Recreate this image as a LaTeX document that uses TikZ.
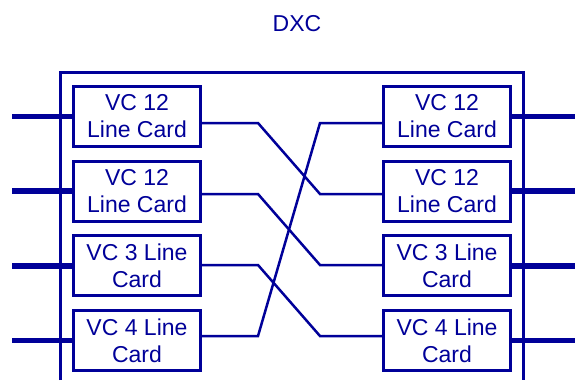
\documentclass[tikz,border=0pt]{standalone}
\usepackage{fontspec}
\setmainfont{Liberation Sans}
\usepackage{xcolor}
\usetikzlibrary{positioning}
\definecolor{dxcblue}{RGB}{0,0,153}

\begin{document}
\begin{tikzpicture}[
  x=1pt, y=-1pt,
  card/.style={draw=dxcblue, line width=3pt, fill=white, align=center, minimum width=127pt, minimum height=60pt, inner sep=0pt, text=dxcblue, font=\fontsize{23}{27}\selectfont},
  stub/.style={draw=dxcblue, line width=5.5pt},
  wire/.style={draw=dxcblue, line width=2.5pt}
]
\useasboundingbox (0,0) rectangle (575,380);
\node[text=dxcblue, font=\fontsize{23}{27}\selectfont] (title) at (297,24) {DXC};
\draw[dxcblue, line width=3pt] (60.5,380) -- (60.5,72) -- (523.5,72) -- (523.5,380);

% line cards
\node[card] (l1) at (137,116.5) {VC 12\\Line Card};
\node[card, below=11.7pt of l1] (l2) {VC 12\\Line Card};
\node[card, below=11.7pt of l2] (l3) {VC 3 Line\\Card};
\node[card, below=11.7pt of l3] (l4) {VC 4 Line\\Card};
\node[card, right=180pt of l1] (r1) {VC 12\\Line Card};
\node[card, right=180pt of l2] (r2) {VC 12\\Line Card};
\node[card, right=180pt of l3] (r3) {VC 3 Line\\Card};
\node[card, right=180pt of l4] (r4) {VC 4 Line\\Card};

% external lines
\coordinate (lx) at (12,0);
\coordinate (rx) at (575,0);
\foreach \i in {1,...,4} {
  \draw[stub] (lx |- l\i) -- (l\i.west);
  \draw[stub] (r\i.east) -- (rx |- r\i);
}

% cross connect
\foreach \i/\y in {1/123,2/194,3/265,4/336} {
  \coordinate (a\i) at (258,\y);
  \coordinate (b\i) at (320,\y);
}
\draw[wire] (l1.east |- a1) -- (a1) -- (b2) -- (r2.west |- b2);
\draw[wire] (l2.east |- a2) -- (a2) -- (b3) -- (r3.west |- b3);
\draw[wire] (l3.east |- a3) -- (a3) -- (b4) -- (r4.west |- b4);
\draw[wire] (l4.east |- a4) -- (a4) -- (b1) -- (r1.west |- b1);
\end{tikzpicture}
\end{document}
